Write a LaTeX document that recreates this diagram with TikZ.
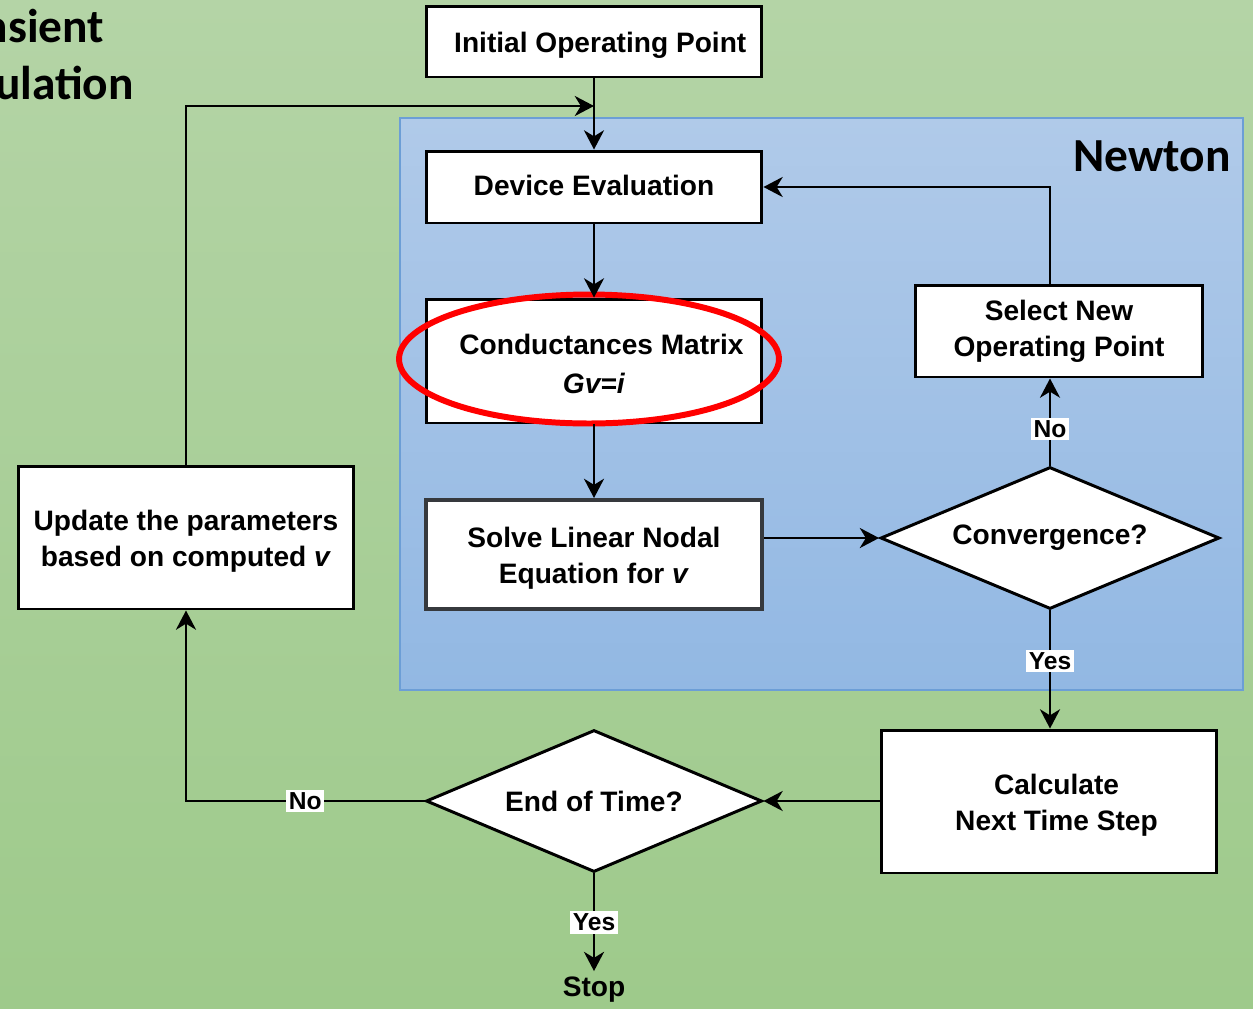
\documentclass[tikz,border=0pt]{standalone}
\usepackage{fontspec}
\setmainfont{Liberation Sans}
\newfontfamily\titlefont{Carlito}
\usetikzlibrary{shapes.geometric,arrows.meta,positioning}

\definecolor{bgtop}{RGB}{180,212,166}
\definecolor{bgbot}{RGB}{158,202,139}
\definecolor{nwtop}{RGB}{176,202,233}
\definecolor{nwbot}{RGB}{146,184,227}
\definecolor{nwline}{RGB}{108,158,214}
\definecolor{solveline}{RGB}{54,57,61}

\newcommand\boxfont{\bfseries\fontsize{16}{20.5}\selectfont}
\newcommand\lblfont{\bfseries\fontsize{14}{16}\selectfont}
\newcommand\headfont{\titlefont\bfseries\fontsize{27}{34}\selectfont}

\tikzset{
  block/.style={draw, line width=1.7pt, fill=white, align=center,
    minimum width=6.72cm, font=\boxfont},
  decision/.style={diamond, draw, line width=1.7pt, fill=white,
    inner sep=0pt, aspect=2.4, font=\boxfont},
  flow/.style={line width=1.1pt, -{Stealth[length=11pt,width=11.5pt,inset=3.5pt]}},
  lbl/.style={fill=white, inner sep=1.5pt, font=\lblfont},
}

\begin{document}
\begin{tikzpicture}[x=0.02cm, y=-0.02cm]
  \useasboundingbox (0,0) rectangle (1253,1008);
  % background and Newton loop area
  \path[top color=bgtop, bottom color=bgbot] (0,0) rectangle (1253,1008);
  \draw[nwline, line width=0.6pt, top color=nwtop, bottom color=nwbot]
    (400,118) rectangle (1243,690);
  \begin{scope}
    \clip (0,0) rectangle (400,118);
    \node[anchor=base west, inner sep=0pt, font=\headfont] at (-78,42) {Transient};
    \node[anchor=base west, inner sep=0pt, font=\headfont] at (-78,99) {Simulation};
  \end{scope}
  \node[anchor=east, font=\headfont] at (1237,156) {Newton};

  % blocks
  \node[block, minimum height=1.42cm] (init) at (594,41.5)
    {\\[-5pt]\hspace*{0.25cm}Initial Operating Point};
  \node[block, minimum height=1.44cm] (dev) at (594,187)
    {\raisebox{2pt}{Device Evaluation}};
  \node[block, minimum height=2.48cm] (cond) at (594,361)
    {\\[-5pt]\hspace*{0.3cm}Conductances Matrix\\[1.7pt]\textit{Gv=i}};
  \node[block, draw=solveline, line width=2.3pt, minimum height=2.18cm] (solve)
    at (594,554.5) {\\[-5pt]Solve Linear Nodal\\Equation for \textit{v}};
  \node[block, minimum width=5.76cm, minimum height=1.84cm] (sel) at (1059,331)
    {Select New\\Operating Point};
  \node[decision, minimum width=6.78cm, minimum height=2.84cm] (conv) at (1050,538)
    {Convergence?};
  \node[block, minimum height=2.86cm] (calc) at (1049,801.5)
    {\\[-5pt]\hspace*{0.3cm}Calculate\\\hspace*{0.3cm}Next Time Step};
  \node[decision, minimum width=6.72cm, minimum height=2.84cm] (eot) at (594,801)
    {End of Time?};
  \node[block, minimum height=2.86cm] (upd) at (186,537.5)
    {\\[-5pt]Update the parameters\\based on computed \textit{v}};
  \node[font=\boxfont] (stop) at (594,990) {Stop};

  \draw[red, line width=3.4pt] (589,359) ellipse [x radius=3.8cm, y radius=1.29cm];

  % connectors
  \coordinate (join) at (init.south |- 0,106);
  \foreach \a/\b in {init/dev, dev/cond, cond/solve}
    \draw[flow] (\a) -- (\b);
  \draw[flow] (upd.north) |- (join);
  \draw[flow] (solve.east |- conv.west) -- (conv.west);
  \draw[flow] (conv.north) -- node[lbl, pos=0.42] {No} (conv.north |- sel.south);
  \draw[flow] (conv.north |- sel.north) |- (dev.east);
  \draw[flow] (conv.south) -- node[lbl, pos=0.43] {Yes} (conv.south |- calc.north);
  \draw[flow] (calc.west |- eot.east) -- (eot.east);
  \draw[flow] (eot.west) -| node[lbl, pos=0.25] {No} (upd.south);
  \draw[flow] (eot.south) -- node[lbl] {Yes} (stop.north);
\end{tikzpicture}
\end{document}
